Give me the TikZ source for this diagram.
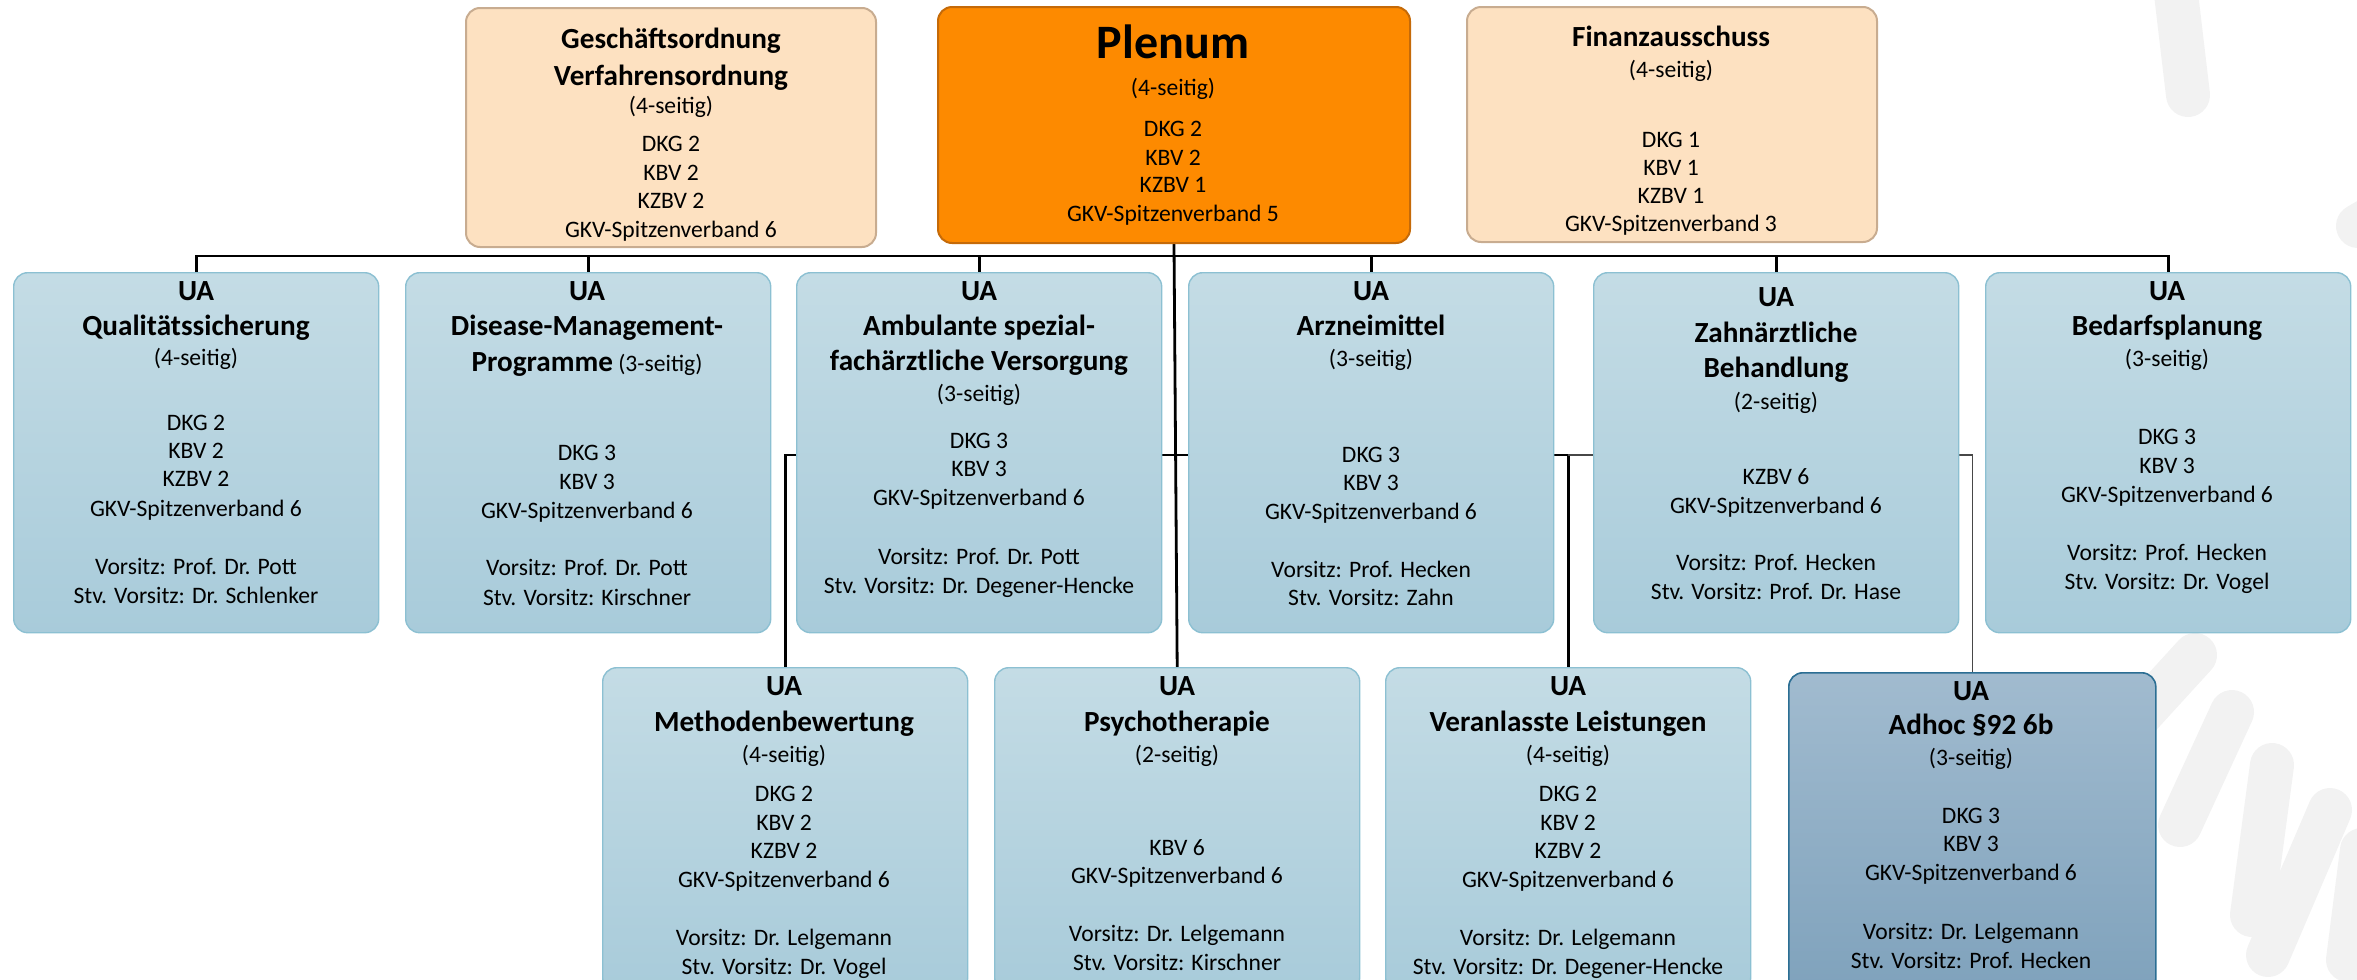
\documentclass[tikz,border=0pt]{standalone}
\usepackage{fontspec}
\setmainfont{Carlito}
\definecolor{peach}{HTML}{FDE1C1}
\definecolor{peachb}{HTML}{C8AC90}
\definecolor{plen}{HTML}{FD8A00}
\definecolor{plenb}{HTML}{C56A08}
\definecolor{uat}{HTML}{C4DCE5}
\definecolor{uab}{HTML}{A8CBDA}
\definecolor{uabd}{HTML}{8CC0D2}
\definecolor{adt}{HTML}{A1BBCF}
\definecolor{adb}{HTML}{7FA2BC}
\definecolor{adbd}{HTML}{2B6E93}
\definecolor{wm}{HTML}{F2F2F2}
\definecolor{lgrey}{HTML}{474747}
\newcommand\fn{\fontsize{11.8pt}{14pt}\selectfont}
\newcommand\fb{\fontsize{14.6pt}{17pt}\selectfont\bfseries}
\newcommand\fp{\fontsize{24pt}{28pt}\selectfont\bfseries}
\newcommand\tline[5]{\node[#1] (#2) at (#3,#4) {#5};}
\pgfdeclarelayer{wmlayer}
\pgfdeclarelayer{lines}
\pgfsetlayers{wmlayer,lines,main}
\tikzset{
  tx/.style={font=\fn, anchor=base, inner sep=0pt},
  tb/.style={font=\fb, anchor=base, inner sep=0pt},
  tp/.style={font=\fp, anchor=base, inner sep=0pt},
  bx/.style={anchor=north west, inner sep=0pt, rounded corners=7pt},
  peachbox/.style={bx, fill=peach, draw=peachb, line width=1pt},
  plbox/.style={bx, fill=plen, draw=plenb, line width=1pt},
  uabox/.style={bx, top color=uat, bottom color=uab, draw=uabd, line width=0.7pt},
  adbox/.style={bx, top color=adt, bottom color=adb, draw=adbd, line width=0.8pt},
  bus/.style={line width=1.4pt, draw=black},
  busg/.style={line width=0.8pt, draw=lgrey},
  wmk/.style={line width=22pt, line cap=round, draw=wm}
}
\begin{document}
\begin{tikzpicture}[x=0.5pt,y=-0.5pt]
\useasboundingbox (0,0) rectangle (2357,980);
% ---------- boxes ----------
\node[peachbox, minimum width=205pt, minimum height=119.5pt] (go) at (465,7) {};
\node[plbox, minimum width=236pt, minimum height=118pt] (pl) at (937,6) {};
\node[peachbox, minimum width=205pt, minimum height=117.5pt] (fa) at (1466,6) {};
\node[uabox, minimum width=182.5pt, minimum height=180pt] (qs) at (13,272) {};
\node[uabox, minimum width=182.5pt, minimum height=180pt] (dmp) at (405,272) {};
\node[uabox, minimum width=182.5pt, minimum height=180pt] (asv) at (796,272) {};
\node[uabox, minimum width=182.5pt, minimum height=180pt] (arz) at (1188,272) {};
\node[uabox, minimum width=182.5pt, minimum height=180pt] (zah) at (1593,272) {};
\node[uabox, minimum width=182.5pt, minimum height=180pt] (bed) at (1985,272) {};
\node[uabox, minimum width=182.5pt, minimum height=162pt] (met) at (602,667) {};
\node[uabox, minimum width=182.5pt, minimum height=162pt] (psy) at (994,667) {};
\node[uabox, minimum width=182.5pt, minimum height=162pt] (ver) at (1385,667) {};
\node[adbox, minimum width=183.5pt, minimum height=160pt] (adh) at (1788,672) {};
% ---------- texts ----------
\tline{tb}{go1}{671}{48.5}{Geschäftsordnung}
\tline{tb}{go2}{671}{85.5}{Verfahrensordnung}
\tline{tx}{go3}{671}{113}{(4-seitig)}
\tline{tx}{go4}{671}{151}{DKG 2}
\tline{tx}{go5}{671}{180}{KBV 2}
\tline{tx}{go6}{671}{208}{KZBV 2}
\tline{tx}{go7}{671}{237}{GKV-Spitzenverband 6}
%
\tline{tp}{pl1}{1173}{58}{Plenum}
\tline{tx}{pl2}{1173}{95}{(4-seitig)}
\tline{tx}{pl3}{1173}{136}{DKG 2}
\tline{tx}{pl4}{1173}{165}{KBV 2}
\tline{tx}{pl5}{1173}{192}{KZBV 1}
\tline{tx}{pl6}{1173}{221}{GKV-Spitzenverband 5}
%
\tline{tb}{fa1}{1671}{46}{Finanzausschuss}
\tline{tx}{fa2}{1671}{77}{(4-seitig)}
\tline{tx}{fa3}{1671}{147}{DKG 1}
\tline{tx}{fa4}{1671}{175}{KBV 1}
\tline{tx}{fa5}{1671}{203}{KZBV 1}
\tline{tx}{fa6}{1671}{231}{GKV-Spitzenverband 3}
%
\tline{tb}{qs1}{196}{300.5}{UA}
\tline{tb}{qs2}{196}{335.5}{Qualitätssicherung}
\tline{tx}{qs3}{196}{365.5}{(4-seitig)}
\tline{tx}{qs4}{196}{430.5}{DKG 2}
\tline{tx}{qs5}{196}{458.5}{KBV 2}
\tline{tx}{qs6}{196}{486.5}{KZBV 2}
\tline{tx}{qs7}{196}{516.5}{GKV-Spitzenverband 6}
\tline{tx}{qs8}{196}{574.5}{Vorsitz: Prof. Dr. Pott}
\tline{tx}{qs9}{196}{603.5}{Stv. Vorsitz: Dr. Schlenker}
%
\tline{tb}{dm1}{587}{300.5}{UA}
\tline{tb}{dm2}{587}{335.5}{Disease-Management-}
\tline{tx}{dm3}{587}{371.5}{{\fb Programme} (3-seitig)}
\tline{tx}{dm4}{587}{460.5}{DKG 3}
\tline{tx}{dm5}{587}{489.5}{KBV 3}
\tline{tx}{dm6}{587}{518.5}{GKV-Spitzenverband 6}
\tline{tx}{dm7}{587}{575.5}{Vorsitz: Prof. Dr. Pott}
\tline{tx}{dm8}{587}{605.5}{Stv. Vorsitz: Kirschner}
%
\tline{tb}{as1}{979}{300.5}{UA}
\tline{tb}{as2}{979}{335.5}{Ambulante spezial-}
\tline{tb}{as3}{979}{370.5}{fachärztliche Versorgung}
\tline{tx}{as4}{979}{401.5}{(3-seitig)}
\tline{tx}{as5}{979}{448.5}{DKG 3}
\tline{tx}{as6}{979}{476.5}{KBV 3}
\tline{tx}{as7}{979}{505.5}{GKV-Spitzenverband 6}
\tline{tx}{as8}{979}{564.5}{Vorsitz: Prof. Dr. Pott}
\tline{tx}{as9}{979}{593.5}{Stv. Vorsitz: Dr. Degener-Hencke}
%
\tline{tb}{ar1}{1371}{300.5}{UA}
\tline{tb}{ar2}{1371}{335.5}{Arzneimittel}
\tline{tx}{ar3}{1371}{366.5}{(3-seitig)}
\tline{tx}{ar4}{1371}{462.5}{DKG 3}
\tline{tx}{ar5}{1371}{490.5}{KBV 3}
\tline{tx}{ar6}{1371}{519.5}{GKV-Spitzenverband 6}
\tline{tx}{ar7}{1371}{577.5}{Vorsitz: Prof. Hecken}
\tline{tx}{ar8}{1371}{605.5}{Stv. Vorsitz: Zahn}
%
\tline{tb}{za1}{1776}{306.5}{UA}
\tline{tb}{za2}{1776}{342.5}{Zahnärztliche}
\tline{tb}{za3}{1776}{377.5}{Behandlung}
\tline{tx}{za4}{1776}{409.5}{(2-seitig)}
\tline{tx}{za5}{1776}{484.5}{KZBV 6}
\tline{tx}{za6}{1776}{513.5}{GKV-Spitzenverband 6}
\tline{tx}{za7}{1776}{570.5}{Vorsitz: Prof. Hecken}
\tline{tx}{za8}{1776}{599.5}{Stv. Vorsitz: Prof. Dr. Hase}
%
\tline{tb}{bd1}{2167}{300.5}{UA}
\tline{tb}{bd2}{2167}{335.5}{Bedarfsplanung}
\tline{tx}{bd3}{2167}{366.5}{(3-seitig)}
\tline{tx}{bd4}{2167}{444.5}{DKG 3}
\tline{tx}{bd5}{2167}{473.5}{KBV 3}
\tline{tx}{bd6}{2167}{502.5}{GKV-Spitzenverband 6}
\tline{tx}{bd7}{2167}{560.5}{Vorsitz: Prof. Hecken}
\tline{tx}{bd8}{2167}{589.5}{Stv. Vorsitz: Dr. Vogel}
%
\tline{tb}{me1}{784}{695.5}{UA}
\tline{tb}{me2}{784}{731.5}{Methodenbewertung}
\tline{tx}{me3}{784}{762.5}{(4-seitig)}
\tline{tx}{me4}{784}{801.5}{DKG 2}
\tline{tx}{me5}{784}{830.5}{KBV 2}
\tline{tx}{me6}{784}{858.5}{KZBV 2}
\tline{tx}{me7}{784}{887.5}{GKV-Spitzenverband 6}
\tline{tx}{me8}{784}{945.5}{Vorsitz: Dr. Lelgemann}
\tline{tx}{me9}{784}{974.5}{Stv. Vorsitz: Dr. Vogel}
%
\tline{tb}{ps1}{1177}{695.5}{UA}
\tline{tb}{ps2}{1177}{731.5}{Psychotherapie}
\tline{tx}{ps3}{1177}{762.5}{(2-seitig)}
\tline{tx}{ps4}{1177}{855.5}{KBV 6}
\tline{tx}{ps5}{1177}{883.5}{GKV-Spitzenverband 6}
\tline{tx}{ps6}{1177}{941.5}{Vorsitz: Dr. Lelgemann}
\tline{tx}{ps7}{1177}{970.5}{Stv. Vorsitz: Kirschner}
%
\tline{tb}{ve1}{1568}{695.5}{UA}
\tline{tb}{ve2}{1568}{731.5}{Veranlasste Leistungen}
\tline{tx}{ve3}{1568}{762.5}{(4-seitig)}
\tline{tx}{ve4}{1568}{801.5}{DKG 2}
\tline{tx}{ve5}{1568}{830.5}{KBV 2}
\tline{tx}{ve6}{1568}{858.5}{KZBV 2}
\tline{tx}{ve7}{1568}{887.5}{GKV-Spitzenverband 6}
\tline{tx}{ve8}{1568}{945.5}{Vorsitz: Dr. Lelgemann}
\tline{tx}{ve9}{1568}{974.5}{Stv. Vorsitz: Dr. Degener-Hencke}
%
\tline{tb}{ad1}{1971}{700.5}{UA}
\tline{tb}{ad2}{1971}{734.5}{Adhoc §92 6b}
\tline{tx}{ad3}{1971}{765.5}{(3-seitig)}
\tline{tx}{ad4}{1971}{823.5}{DKG 3}
\tline{tx}{ad5}{1971}{851.5}{KBV 3}
\tline{tx}{ad6}{1971}{880.5}{GKV-Spitzenverband 6}
\tline{tx}{ad7}{1971}{939.5}{Vorsitz: Dr. Lelgemann}
\tline{tx}{ad8}{1971}{968.5}{Stv. Vorsitz: Prof. Hecken}
% ---------- connectors ----------
\coordinate (busT) at (1173,256);
\coordinate (busM) at (1173,455);
\begin{pgfonlayer}{lines}
\draw[bus] (qs.north) |- (busT) -| (bed.north);
\draw[bus] (dmp.north) -- (dmp.north |- busT);
\draw[bus] (asv.north) -- (asv.north |- busT);
\draw[bus] (arz.north) -- (arz.north |- busT);
\draw[bus] (zah.north) -- (zah.north |- busT);
\draw[bus] (pl.south) -- (psy.north);
\draw[bus] (met.north) |- (busM) -| (ver.north);
\draw[busg] (busM -| ver.north) -| (adh.north);
\end{pgfonlayer}
% ---------- watermark ----------
\begin{pgfonlayer}{wmlayer}
\draw[wmk] (2172,-40) -- (2188,95);
\draw[wmk] (2358,226) -- (2420,190);
\draw[wmk] (2195,655) -- (2090,770);
\draw[wmk] (2232,712) -- (2180,825);
\draw[wmk] (2272,765) -- (2252,915);
\draw[wmk] (2330,810) -- (2268,955);
\draw[wmk] (2362,850) -- (2348,960);
\end{pgfonlayer}
\end{tikzpicture}
\end{document}
